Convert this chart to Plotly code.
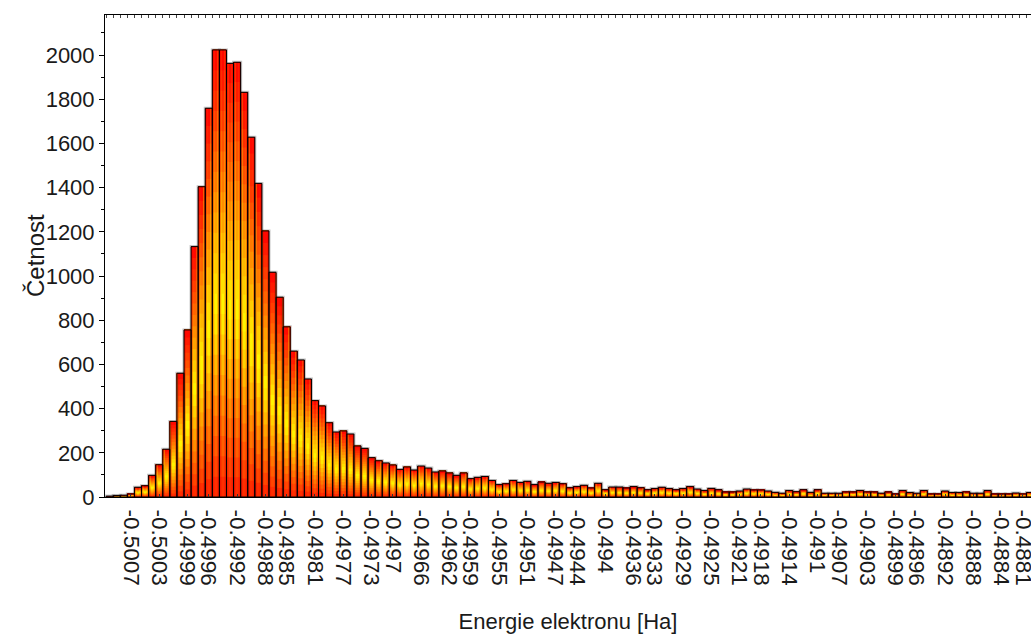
import plotly.graph_objects as go

# ---- data ----
bin_start = -0.5010          # centre of first bin [Ha]
bin_width = 0.0001           # bin width [Ha]
counts = [
    4, 7, 8, 14, 44, 51, 98, 146, 216, 342,
    560, 756, 1133, 1404, 1759, 2023, 2023, 1962, 1967, 1831,
    1628, 1419, 1204, 1017, 904, 770, 660, 620, 534, 436,
    412, 336, 294, 299, 285, 231, 220, 178, 164, 154,
    145, 125, 136, 122, 140, 131, 113, 118, 109, 98,
    109, 83, 89, 93, 75, 56, 60, 75, 66, 71,
    56, 68, 62, 66, 60, 42, 47, 53, 41, 62,
    33, 45, 45, 41, 47, 42, 33, 38, 44, 38,
    33, 38, 47, 36, 29, 39, 33, 23, 23, 27,
    36, 32, 32, 27, 21, 17, 29, 24, 33, 21,
    33, 17, 17, 17, 23, 23, 29, 23, 23, 17,
    23, 14, 29, 20, 17, 29, 14, 14, 27, 20,
    20, 23, 17, 17, 29, 14, 14, 14, 18, 14,
    20,
]
tick_labels = [
    "-0.5007", "-0.5003", "-0.4999", "-0.4996", "-0.4992", "-0.4988", "-0.4985",
    "-0.4981", "-0.4977", "-0.4973", "-0.497", "-0.4966", "-0.4962", "-0.4959",
    "-0.4955", "-0.4951", "-0.4947", "-0.4944", "-0.494", "-0.4936", "-0.4933",
    "-0.4929", "-0.4925", "-0.4921", "-0.4918", "-0.4914", "-0.491", "-0.4907",
    "-0.4903", "-0.4899", "-0.4896", "-0.4892", "-0.4888", "-0.4884", "-0.4881",
]
x_title = "Energie elektronu [Ha]"
y_title = "Četnost"

# ---- derived ----
xs = [round(bin_start + i * bin_width, 7) for i in range(len(counts))]
tickvals = [float(t) for t in tick_labels]

# vertical colour ramp (fraction from bottom -> rgb)
stops = [
    (0.00, (255, 35, 0)),
    (0.18, (255, 130, 0)),
    (0.42, (255, 250, 0)),
    (0.62, (255, 160, 0)),
    (0.82, (255, 70, 0)),
    (1.00, (255, 0, 0)),
]


def ramp(f):
    for (f0, c0), (f1, c1) in zip(stops[:-1], stops[1:]):
        if f0 <= f <= f1:
            t = (f - f0) / (f1 - f0)
            return tuple(c0[j] + (c1[j] - c0[j]) * t for j in range(3))
    return stops[-1][1]


def shade(rgb, amt):
    r, g, b = rgb
    return "rgb(%d,%d,%d)" % (r * (1 - amt) + 230 * amt, g * (1 - amt), b * (1 - amt))


N = 22
layers = [(1.0, 0.55), (0.72, 0.28), (0.40, 0.0)]  # (relative width, red mix)

fig = go.Figure()

# soft grey halo around bars
fig.add_trace(go.Bar(
    x=xs, y=counts, width=bin_width,
    marker=dict(color="rgba(0,0,0,0)", line=dict(color="rgba(80,80,80,0.35)", width=3)),
    hoverinfo="skip", showlegend=False,
))

for wrel, amt in layers:
    for k in range(N):
        f = (k + 0.5) / N
        fig.add_trace(go.Bar(
            x=xs,
            base=[c * k / N for c in counts],
            y=[c * (N - k) / N for c in counts],
            width=bin_width * wrel,
            marker=dict(color=shade(ramp(f), amt), line=dict(width=0)),
            hoverinfo="skip", showlegend=False,
        ))

# black outlines
fig.add_trace(go.Bar(
    x=xs, y=counts, width=bin_width,
    marker=dict(color="rgba(0,0,0,0)", line=dict(color="black", width=1)),
    showlegend=False,
))

# invisible trace to carry the top axis with per-bin ticks
fig.add_trace(go.Scatter(
    x=[xs[0]], y=[0], xaxis="x2", mode="markers",
    marker=dict(opacity=0), hoverinfo="skip", showlegend=False,
))

xrange = [-0.501066, -0.487986]
font_family = "Liberation Sans, Arial, sans-serif"
txt = "#1a1a1a"

fig.update_layout(
    width=1031, height=635,
    margin=dict(l=105, r=0, t=15, b=138),
    paper_bgcolor="white", plot_bgcolor="white",
    barmode="overlay",
    showlegend=False,
    font=dict(family=font_family, color=txt),
    xaxis=dict(
        range=xrange, automargin=False,
        tickmode="array", tickvals=tickvals, ticktext=tick_labels,
        tickangle=90, ticklabeloverflow="allow", ticklabelstandoff=7,
        tickfont=dict(size=22.5, family=font_family, color=txt),
        ticks="inside", ticklen=3, tickcolor="#333",
        showline=True, linecolor="black", linewidth=1, mirror=True,
        showgrid=False, zeroline=False,
        title=dict(text=x_title, font=dict(size=22, family=font_family, color=txt), standoff=28),
    ),
    xaxis2=dict(
        overlaying="x", side="top", range=xrange, automargin=False,
        tickmode="linear", tick0=bin_start - bin_width / 2, dtick=bin_width,
        ticks="inside", ticklen=3, tickcolor="#444",
        showticklabels=False, showgrid=False, zeroline=False, showline=False,
    ),
    yaxis=dict(
        range=[0, 2181], automargin=False,
        tickmode="linear", tick0=0, dtick=200,
        tickfont=dict(size=22, family=font_family, color=txt),
        ticks="outside", ticklen=5, tickcolor="black",
        minor=dict(dtick=100, ticks="outside", ticklen=3, tickcolor="black"),
        showline=True, linecolor="black", linewidth=1,
        showgrid=False, zeroline=False,
    ),
    annotations=[dict(
        text=y_title, textangle=-90,
        xref="paper", yref="paper", x=0, y=0.5,
        xanchor="center", yanchor="middle", xshift=-70, showarrow=False,
        font=dict(size=24, family=font_family, color=txt),
    )],
)

fig.write_html(
    "out.html",
    config={"displayModeBar": False},
    post_script="document.body.style.margin='0';document.body.style.overflow='hidden';",
)
